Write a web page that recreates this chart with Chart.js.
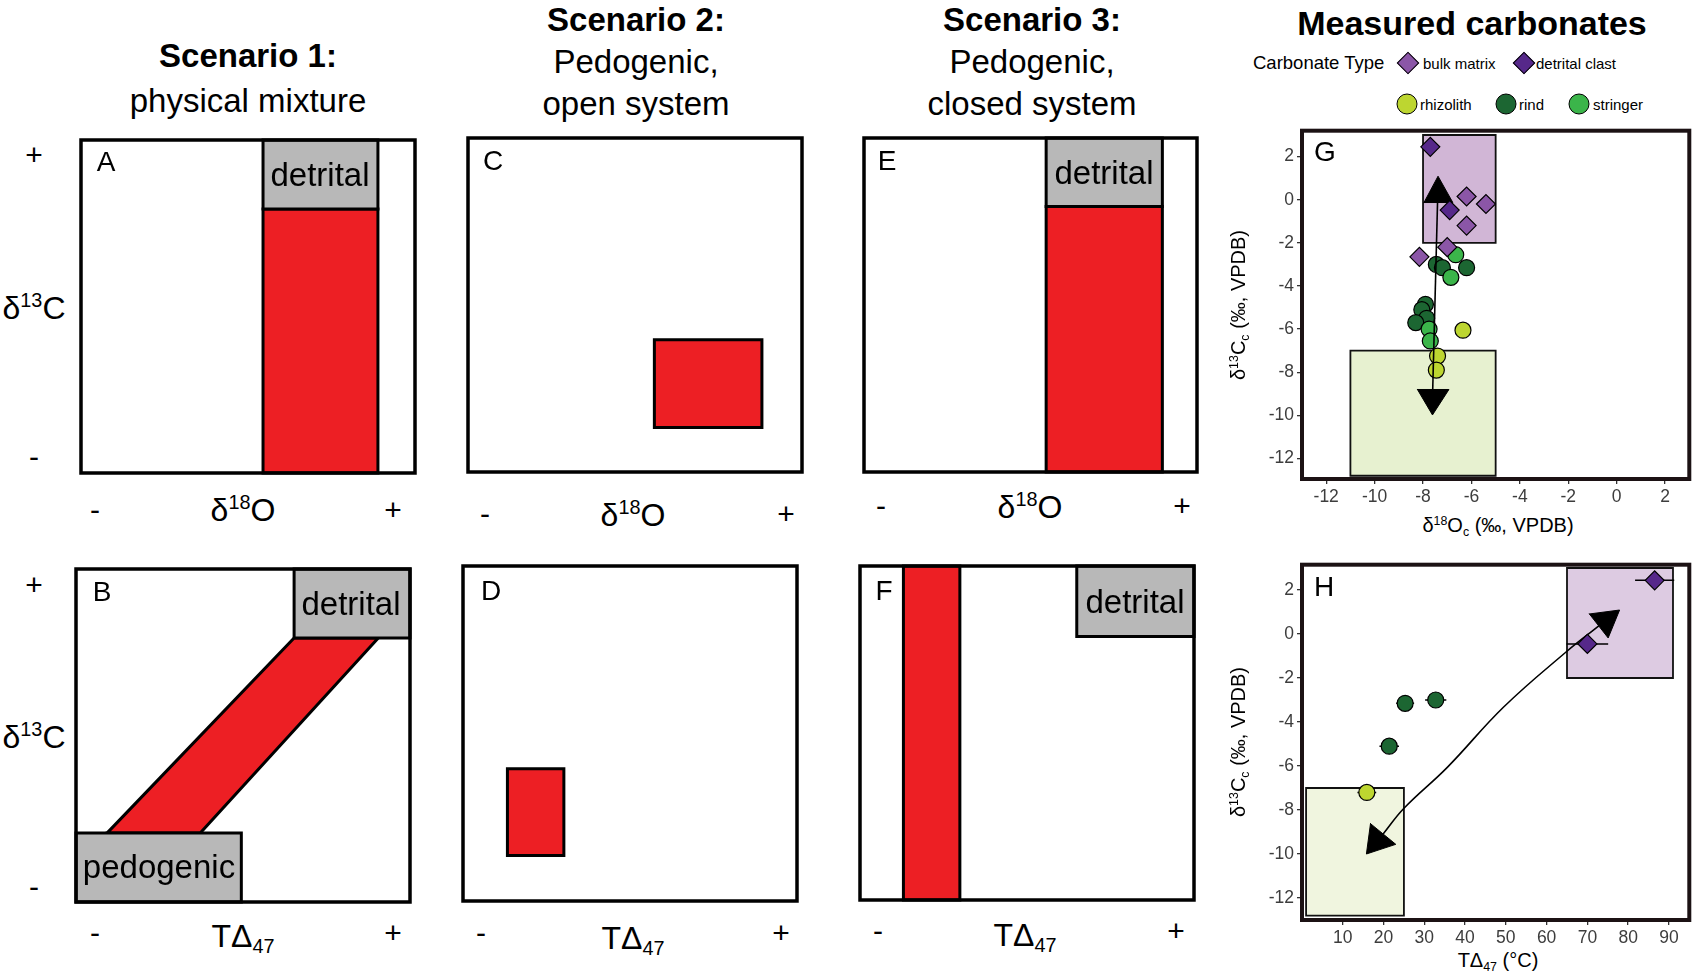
<!DOCTYPE html>
<html lang="en">
<head>
<meta charset="UTF-8">
<title>Carbonate scenarios</title>
<script src="https://cdn.jsdelivr.net/npm/chart.js@4.4.1/dist/chart.umd.min.js"></script>
<style>
    body { margin: 0; background: #fff; width: 1700px; height: 974px; position: relative; overflow: hidden;
           font-family: "Liberation Sans", Arial, sans-serif; }
    canvas { position: absolute; }
    .t { position: absolute; transform: translate(-50%, -50%); white-space: nowrap; line-height: 1; color: #000; }
    .l { position: absolute; transform: translate(0, -50%); white-space: nowrap; line-height: 1; color: #000; }
    .rot { transform: translate(-50%, -50%) rotate(-90deg); }
    sup { font-size: 0.62em; vertical-align: 0; position: relative; top: -0.6em; }
    sub { font-size: 0.62em; vertical-align: 0; position: relative; top: 0.3em; }
    .dia { position: absolute; width: 14px; height: 14px; border: 1.3px solid #000; transform: translate(-50%, -50%) rotate(45deg); }
    .dot { position: absolute; width: 19px; height: 19px; border: 1.3px solid #000; border-radius: 50%; transform: translate(-50%, -50%); }
</style>
</head>
<body>
<script>
    // ---- schematic panels A-F, both axes in arbitrary 0-100 units ----
    // boxes are [xmin, xmax, ymin, ymax]
    var aDetrital = [54.5, 88.9, 79.3, 100];
    var aMixing = [54.5, 88.9, 0, 79.3];
    var bDetrital = [65.3, 100, 79.3, 100];
    var bPedogenic = [0, 49.5, 0, 20.7];
    var bBandX = [9.3, 37.2, 90.5, 65.3];
    var bBandY = [20.7, 20.7, 79.3, 79.3];
    var cPedogenic = [55.8, 88.0, 13.3, 39.6];
    var dPedogenic = [13.3, 30.2, 13.6, 39.5];
    var eDetrital = [54.7, 89.6, 79.5, 100];
    var eMixing = [54.7, 89.6, 0, 79.5];
    var fDetrital = [64.9, 100, 78.9, 100];
    var fMixing = [13.0, 29.9, 0, 100];

    // ---- panel G: d18O vs d13C ----
    var gBulkX = [-6.2, -5.4, -6.2, -7.0, -8.15];
    var gBulkY = [0.15, -0.2, -1.2, -2.2, -2.65];
    var gClastX = [-7.7, -6.9];
    var gClastY = [2.45, -0.48];
    var gRindX = [-7.45, -7.2, -6.2, -7.9, -8.05, -7.85, -8.3];
    var gRindY = [-3.0, -3.15, -3.15, -4.85, -5.1, -5.5, -5.7];
    var gStringerX = [-6.65, -6.85, -7.75, -7.7];
    var gStringerY = [-2.55, -3.6, -6.0, -6.55];
    var gRhizolithX = [-6.35, -7.4, -7.45];
    var gRhizolithY = [-6.05, -7.25, -7.9];
    var gDetritalBox = [-8, -5, -2, 3];
    var gPedogenicBox = [-11, -5, -12.8, -7];
    var gArrowX = [-7.4, -7.6];
    var gArrowY = [-0.1, -8.8];
    var gHeadUpX = [-7.96, -7.38, -6.77];
    var gHeadUpY = [-0.13, 1.09, -0.13];
    var gHeadDownX = [-8.23, -7.61, -6.93];
    var gHeadDownY = [-8.8, -9.98, -8.8];
    var gTicksX = [-12, -10, -8, -6, -4, -2, 0, 2];
    var gTicksY = [-12, -10, -8, -6, -4, -2, 0, 2];

    // ---- panel H: clumped temperature vs d13C ----
    var hRhizolithX = [15.9];
    var hRhizolithY = [-7.2];
    var hRhizolithErr = [2.3];
    var hRindX = [21.4, 25.3, 32.8];
    var hRindY = [-5.1, -3.15, -3.0];
    var hRindErr = [2.4, 2.2, 2.6];
    var hClastX = [70.0, 86.5];
    var hClastY = [-0.45, 2.44];
    var hClastErr = [5.1, 4.8];
    var hDetritalBox = [65, 91, -2, 3];
    var hPedogenicBox = [1, 25, -12.8, -7];
    var hCurveX = [72.8, 64.7, 49.4, 35.7, 24.9, 19.9];
    var hCurveY = [0.37, -0.83, -3.33, -6.05, -7.94, -9.09];
    var hHeadUpX = [70.5, 77.9, 75.1];
    var hHeadUpY = [0.91, 1.09, -0.18];
    var hHeadDownX = [16.8, 15.8, 23.0];
    var hHeadDownY = [-8.62, -10.0, -9.56];
    var hTicksX = [10, 20, 30, 40, 50, 60, 70, 80, 90];
    var hTicksY = [-12, -10, -8, -6, -4, -2, 0, 2];

    var FONT = '"Liberation Sans", Arial, sans-serif';
    var RED = '#ed1f24', GREY = '#b8b8b8';
    var BULK = '#8b56a7', CLAST = '#56288a', RHIZ = '#bdd630', RIND = '#1c6632', STRINGER = '#3bb54a';

    function pts(xs, ys) {
        return xs.map(function (x, i) { return { x: x, y: ys[i] }; });
    }
    function rectPts(r) {
        return pts([r[0], r[1], r[1], r[0], r[0]], [r[2], r[2], r[3], r[3], r[2]]);
    }
    function closed(xs, ys) {
        return pts(xs.concat([xs[0]]), ys.concat([ys[0]]));
    }
    function shape(data, fill, stroke, lw) {
        return {
            data: data, showLine: true, fill: 'shape', backgroundColor: fill, borderColor: stroke,
            borderWidth: lw, pointRadius: 0, tension: 0, clip: false,
            borderJoinStyle: 'miter', borderCapStyle: 'square'
        };
    }
    function line(data, lw, tension) {
        return { data: data, showLine: true, fill: false, borderColor: '#000', borderWidth: lw,
                 pointRadius: 0, tension: tension || 0, spanGaps: false };
    }
    function marks(xs, ys, style, color, r) {
        return { data: pts(xs, ys), pointStyle: style, pointRadius: r, backgroundColor: color,
                 borderColor: '#000', borderWidth: 1.2, showLine: false };
    }
    function errBars(xs, ys, es) {
        var d = [];
        xs.forEach(function (x, i) {
            d.push({ x: x - es[i], y: ys[i] }, { x: x + es[i], y: ys[i] }, { x: x, y: null });
        });
        return line(d, 1.5);
    }
    // first dataset in the list ends up at the bottom
    function stack(list) {
        list.forEach(function (d, i) { d.order = list.length - i; });
        return list;
    }

    var framePlugin = {
        id: 'frame',
        afterDatasetsDraw: function (chart, args, opts) {
            var a = chart.chartArea, ctx = chart.ctx;
            ctx.save();
            ctx.strokeStyle = opts.color;
            ctx.lineWidth = opts.width;
            ctx.strokeRect(a.left, a.top, a.right - a.left, a.bottom - a.top);
            ctx.restore();
        }
    };

    function makeCanvas(left, top, w, h) {
        var c = document.createElement('canvas');
        c.width = w; c.height = h;
        c.style.left = left + 'px'; c.style.top = top + 'px';
        c.style.width = w + 'px'; c.style.height = h + 'px';
        document.body.appendChild(c);
        return c;
    }

    function schematic(left, top, w, h, datasets) {
        var pad = 4;
        new Chart(makeCanvas(left - pad, top - pad, w + 2 * pad, h + 2 * pad), {
            type: 'scatter',
            data: { datasets: stack(datasets) },
            plugins: [framePlugin],
            options: {
                responsive: false, animation: false, events: [],
                layout: { padding: pad },
                scales: {
                    x: { type: 'linear', display: false, min: 0, max: 100 },
                    y: { type: 'linear', display: false, min: 0, max: 100 }
                },
                plugins: { legend: { display: false }, tooltip: { enabled: false },
                           frame: { width: 3.5, color: '#000' } }
            }
        });
    }

    schematic(81, 140, 334, 333, [
        shape(rectPts(aMixing), RED, '#000', 3),
        shape(rectPts(aDetrital), GREY, '#000', 3)
    ]);
    schematic(76, 569, 334, 333, [
        shape(closed(bBandX, bBandY), RED, '#000', 3),
        shape(rectPts(bDetrital), GREY, '#000', 3),
        shape(rectPts(bPedogenic), GREY, '#000', 3)
    ]);
    schematic(468, 138, 334, 334, [
        shape(rectPts(cPedogenic), RED, '#000', 3)
    ]);
    schematic(463, 566, 334, 335, [
        shape(rectPts(dPedogenic), RED, '#000', 3)
    ]);
    schematic(864, 138, 333, 334, [
        shape(rectPts(eMixing), RED, '#000', 3),
        shape(rectPts(eDetrital), GREY, '#000', 3)
    ]);
    schematic(860, 566, 334, 334, [
        shape(rectPts(fMixing), RED, '#000', 3),
        shape(rectPts(fDetrital), GREY, '#000', 3)
    ]);

    function axisOpts(min, max, ticks, isX) {
        return {
            type: 'linear', min: min, max: max,
            afterFit: function (s) {
                if (isX) { s.height = 28; } else { s.width = 72; }
                // the frame is placed by hand, no room needed for edge labels
                s.paddingLeft = 0; s.paddingRight = 0; s.paddingTop = 0; s.paddingBottom = 0;
            },
            afterBuildTicks: function (s) { s.ticks = ticks.map(function (v) { return { value: v }; }); },
            grid: { display: true, drawOnChartArea: false, drawTicks: true, tickLength: 5,
                    color: '#333', lineWidth: 1.3 },
            border: { display: false },
            ticks: { color: '#3d3d3d', font: { size: 17.5, family: FONT }, padding: 3,
                     autoSkip: false, maxRotation: 0 }
        };
    }
    function scatterChart(left, top, h, xr, yr, xt, yt, datasets) {
        new Chart(makeCanvas(left, top, 1700 - left, h), {
            type: 'scatter',
            data: { datasets: stack(datasets) },
            plugins: [framePlugin],
            options: {
                responsive: false, animation: false, events: [],
                layout: { padding: { top: 10, right: 3, left: 0, bottom: 0 } },
                scales: { x: axisOpts(xr[0], xr[1], xt, true), y: axisOpts(yr[0], yr[1], yt, false) },
                plugins: { legend: { display: false }, tooltip: { enabled: false },
                           frame: { width: 4, color: '#1c1214' } }
            }
        });
    }

    scatterChart(1230, 120, 387, [-13, 3], [-12.95, 3.2], gTicksX, gTicksY, [
        shape(rectPts(gPedogenicBox), '#e7f1d0', '#111', 1.8),
        shape(rectPts(gDetritalBox), '#d1b6d6', '#111', 1.8),
        marks(gRindX, gRindY, 'circle', RIND, 8),
        marks(gStringerX, gStringerY, 'circle', STRINGER, 8),
        marks(gRhizolithX, gRhizolithY, 'circle', RHIZ, 8),
        line(pts(gArrowX, gArrowY), 1.6),
        shape(closed(gHeadUpX, gHeadUpY), '#000', '#000', 1),
        shape(closed(gHeadDownX, gHeadDownY), '#000', '#000', 1),
        marks(gBulkX, gBulkY, 'rectRot', BULK, 9.5),
        marks(gClastX, gClastY, 'rectRot', CLAST, 9.5)
    ]);

    scatterChart(1230, 554, 394, [0, 95], [-13, 3.15], hTicksX, hTicksY, [
        shape(rectPts(hPedogenicBox), '#f0f5df', '#111', 1.8),
        shape(rectPts(hDetritalBox), '#ddcbe2', '#111', 1.8),
        line(pts(hCurveX, hCurveY), 1.6, 0.4),
        shape(closed(hHeadUpX, hHeadUpY), '#000', '#000', 1),
        shape(closed(hHeadDownX, hHeadDownY), '#000', '#000', 1),
        errBars(hRhizolithX, hRhizolithY, hRhizolithErr),
        errBars(hRindX, hRindY, hRindErr),
        errBars(hClastX, hClastY, hClastErr),
        marks(hRhizolithX, hRhizolithY, 'circle', RHIZ, 8),
        marks(hRindX, hRindY, 'circle', RIND, 8),
        marks(hClastX, hClastY, 'rectRot', CLAST, 9.5)
    ]);

    // ---- text ----
    function text(x, y, html, size, extra) {
        var d = document.createElement('div');
        d.className = 't' + (extra && extra.rot ? ' rot' : '');
        d.style.left = x + 'px'; d.style.top = y + 'px';
        d.style.fontSize = size + 'px';
        if (extra && extra.bold) { d.style.fontWeight = 'bold'; }
        d.innerHTML = html;
        document.body.appendChild(d);
    }
    function leftText(x, y, html, size) {
        var d = document.createElement('div');
        d.className = 'l';
        d.style.left = x + 'px'; d.style.top = y + 'px';
        d.style.fontSize = size + 'px';
        d.innerHTML = html;
        document.body.appendChild(d);
    }
    function swatch(cls, x, y, color) {
        var d = document.createElement('div');
        d.className = cls;
        d.style.left = x + 'px'; d.style.top = y + 'px';
        d.style.background = color;
        document.body.appendChild(d);
    }

    // titles
    text(248, 55, 'Scenario 1:', 33, { bold: true });
    text(248, 100, 'physical mixture', 33);
    text(636, 19, 'Scenario 2:', 33, { bold: true });
    text(636, 61, 'Pedogenic,', 33);
    text(636, 103, 'open system', 33);
    text(1032, 19, 'Scenario 3:', 33, { bold: true });
    text(1032, 61, 'Pedogenic,', 33);
    text(1032, 103, 'closed system', 33);
    text(1472, 23, 'Measured carbonates', 34, { bold: true });

    // legend
    leftText(1253, 63, 'Carbonate Type', 18.5);
    swatch('dia', 1408, 63, BULK);
    leftText(1423, 63, 'bulk matrix', 15);
    swatch('dia', 1524, 63, CLAST);
    leftText(1536, 63, 'detrital clast', 15);
    swatch('dot', 1407, 104, RHIZ);
    leftText(1420, 104, 'rhizolith', 15);
    swatch('dot', 1506, 104, RIND);
    leftText(1519, 104, 'rind', 15);
    swatch('dot', 1579, 104, STRINGER);
    leftText(1593, 104, 'stringer', 15);

    // side labels of schematic panels
    var d13C = '&delta;<sup>13</sup>C', d18O = '&delta;<sup>18</sup>O', tD47 = 'T&Delta;<sub>47</sub>';
    text(34, 155, '+', 30); text(34, 308, d13C, 32); text(34, 457, '-', 30);
    text(34, 585, '+', 30); text(34, 737, d13C, 32); text(34, 887, '-', 30);

    text(95, 510, '-', 30); text(243, 510, d18O, 32); text(393, 510, '+', 30);
    text(485, 514, '-', 30); text(633, 515, d18O, 32); text(786, 514, '+', 30);
    text(881, 506, '-', 30); text(1030, 507, d18O, 32); text(1182, 506, '+', 30);
    text(95, 933, '-', 30); text(243, 936, tD47, 32); text(393, 933, '+', 30);
    text(481, 933, '-', 30); text(633, 938, tD47, 32); text(781, 933, '+', 30);
    text(878, 931, '-', 30); text(1025, 935, tD47, 32); text(1176, 931, '+', 30);

    // box labels
    text(320, 174, 'detrital', 33);
    text(351, 603, 'detrital', 33);
    text(159, 866, 'pedogenic', 33);
    text(1104, 172, 'detrital', 33);
    text(1135, 601, 'detrital', 33);

    // panel letters
    text(106, 162, 'A', 28); text(102, 592, 'B', 28);
    text(493, 161, 'C', 28); text(491, 591, 'D', 28);
    text(887, 161, 'E', 28); text(884, 591, 'F', 28);
    text(1325, 152, 'G', 28); text(1324, 587, 'H', 28);

    // axis titles of G and H
    text(1238, 305, '&delta;<sup>13</sup>C<sub>c</sub> (&permil;, VPDB)', 20, { rot: true });
    text(1498, 525, '&delta;<sup>18</sup>O<sub>c</sub> (&permil;, VPDB)', 20);
    text(1238, 742, '&delta;<sup>13</sup>C<sub>c</sub> (&permil;, VPDB)', 20, { rot: true });
    text(1498, 960, 'T&Delta;<sub>47</sub> (&deg;C)', 20);
</script>
</body>
</html>
